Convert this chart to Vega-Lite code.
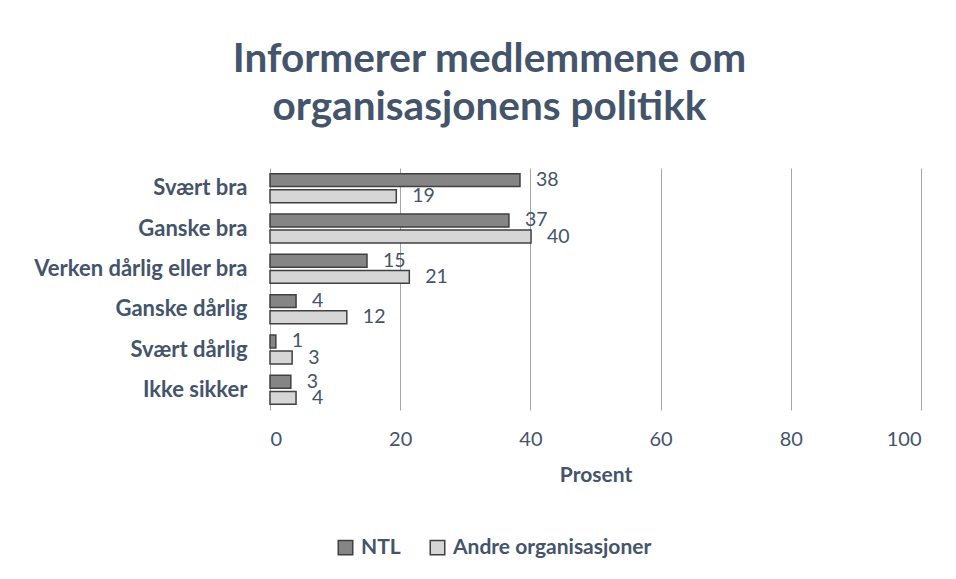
{
  "$schema": "https://vega.github.io/schema/vega-lite/v6.json",
  "width": 651,
  "height": 242,
  "autosize": {"type": "none"},
  "padding": {"left": 270, "top": 168, "right": 35, "bottom": 169},
  "background": "white",
  "title": {
    "text": ["Informerer medlemmene om", "organisasjonens politikk"],
    "font": "Lato",
    "fontSize": 40.5,
    "fontWeight": "bold",
    "color": "#44546A",
    "anchor": "middle",
    "frame": "group",
    "dx": -106,
    "offset": 40,
    "lineHeight": 48
  },
  "data": {
    "values": [
      {"cat": "Svært bra", "series": "NTL", "value": 38.4},
      {"cat": "Svært bra", "series": "Andre organisasjoner", "value": 19.4},
      {"cat": "Ganske bra", "series": "NTL", "value": 36.7},
      {"cat": "Ganske bra", "series": "Andre organisasjoner", "value": 40.1},
      {"cat": "Verken dårlig eller bra", "series": "NTL", "value": 14.9},
      {"cat": "Verken dårlig eller bra", "series": "Andre organisasjoner", "value": 21.4},
      {"cat": "Ganske dårlig", "series": "NTL", "value": 4.0},
      {"cat": "Ganske dårlig", "series": "Andre organisasjoner", "value": 11.8},
      {"cat": "Svært dårlig", "series": "NTL", "value": 0.9},
      {"cat": "Svært dårlig", "series": "Andre organisasjoner", "value": 3.4},
      {"cat": "Ikke sikker", "series": "NTL", "value": 3.2},
      {"cat": "Ikke sikker", "series": "Andre organisasjoner", "value": 4.0}
    ]
  },
  "encoding": {
    "y": {
      "field": "cat",
      "type": "nominal",
      "sort": ["Svært bra", "Ganske bra", "Verken dårlig eller bra", "Ganske dårlig", "Svært dårlig", "Ikke sikker"],
      "scale": {"paddingInner": 0.28, "paddingOuter": 0.14},
      "axis": {
        "title": null,
        "labelFont": "Lato",
        "labelFontSize": 22,
        "labelFontWeight": "bold",
        "labelColor": "#44546A",
        "labelPadding": 23,
        "labelLimit": 0,
        "ticks": false,
        "domain": false,
        "grid": false
      }
    },
    "yOffset": {
      "field": "series",
      "type": "nominal",
      "sort": ["NTL", "Andre organisasjoner"],
      "scale": {"paddingInner": 0.2}
    },
    "x": {
      "field": "value",
      "type": "quantitative",
      "scale": {"domain": [0, 100], "nice": false},
      "axis": {
        "values": [0, 20, 40, 60, 80, 100],
        "grid": true,
        "gridColor": "#a6a6a6",
        "gridWidth": 1,
        "domain": false,
        "ticks": false,
        "labelFont": "Lato",
        "labelFontSize": 20,
        "labelColor": "#44546A",
        "labelPadding": 19,
        "title": "Prosent",
        "titleFont": "Lato",
        "titleFontSize": 21,
        "titleFontWeight": "bold",
        "titleColor": "#44546A",
        "titlePadding": 15
      }
    }
  },
  "layer": [
    {
      "mark": {"type": "bar", "stroke": "#404040", "strokeWidth": 1.5},
      "encoding": {
        "fill": {
          "field": "series",
          "type": "nominal",
          "scale": {"domain": ["NTL", "Andre organisasjoner"], "range": ["#858585", "#d6d6d6"]},
          "legend": {
            "orient": "none",
            "legendX": 65,
            "legendY": 369,
            "direction": "horizontal",
            "title": null,
            "symbolType": "square",
            "symbolSize": 210,
            "symbolStrokeColor": "#404040",
            "symbolStrokeWidth": 1.5,
            "labelFont": "Lato",
            "labelFontSize": 21,
            "labelFontWeight": "bold",
            "labelColor": "#44546A",
            "labelLimit": 0,
            "columnPadding": 26,
            "labelOffset": 5
          }
        }
      }
    },
    {
      "mark": {"type": "text", "align": "left", "baseline": "middle", "dx": 16, "font": "Lato", "fontSize": 19.5, "color": "#44546A"},
      "encoding": {"text": {"field": "value", "type": "quantitative", "format": ".0f"}}
    }
  ],
  "config": {"view": {"stroke": null}}
}
